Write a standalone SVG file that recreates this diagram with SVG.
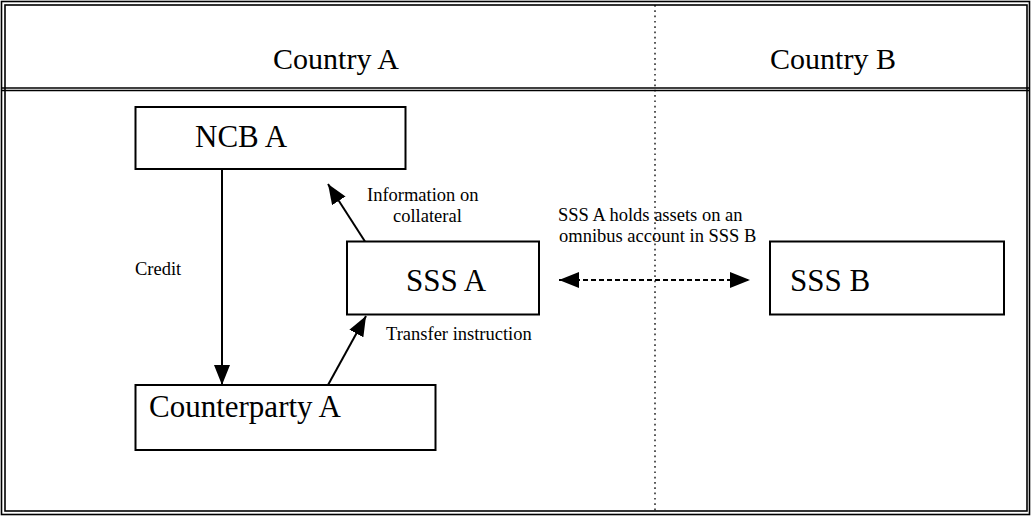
<svg xmlns="http://www.w3.org/2000/svg" width="1031" height="516" viewBox="0 0 1031 516">
<style>
.box{fill:#fff;stroke:#000;stroke-width:2}
.big{font-family:"Liberation Serif","Times New Roman",serif;font-size:31px;fill:#000}
.hdr{font-family:"Liberation Serif","Times New Roman",serif;font-size:30px;fill:#000}
.sm{font-family:"Liberation Serif","Times New Roman",serif;font-size:18.5px;fill:#000}
.ln{stroke:#000;stroke-width:2;fill:none}
.frame{fill:none;stroke:#000;stroke-width:1.6}
</style>
<defs>
<marker id="ah" viewBox="0 0 20 16" refX="20" refY="8" markerWidth="20" markerHeight="16" markerUnits="userSpaceOnUse" orient="auto-start-reverse">
<path d="M0,0 L20,8 L0,16 z" fill="#000"/>
</marker>
</defs>
<rect width="1031" height="516" fill="#fff"/>
<g id="frame">
<rect class="frame" x="1.5" y="1.5" width="1028" height="513"/>
<rect class="frame" x="5" y="5" width="1022" height="506"/>
<line class="frame" x1="1.5" y1="88" x2="1029.5" y2="88"/>
<line class="frame" x1="1.5" y1="90.5" x2="1029.5" y2="90.5"/>
<line x1="655" y1="5" x2="655" y2="511" stroke="#000" stroke-width="1.3" stroke-dasharray="1.7 3.6"/>
</g>
<g id="headers">
<text class="hdr" x="336" y="69" text-anchor="middle">Country A</text>
<text class="hdr" x="833" y="69" text-anchor="middle">Country B</text>
</g>
<g id="ncb-a">
<rect class="box" x="135.5" y="107" width="270" height="62"/>
<text class="big" x="195" y="147">NCB A</text>
</g>
<g id="sss-a">
<rect class="box" x="347" y="241.5" width="192" height="73"/>
<text class="big" x="406" y="291">SSS A</text>
</g>
<g id="sss-b">
<rect class="box" x="770" y="241.5" width="234" height="73"/>
<text class="big" x="790" y="291">SSS B</text>
</g>
<g id="counterparty-a">
<rect class="box" x="135.5" y="385" width="300" height="65"/>
<text class="big" x="149" y="417">Counterparty A</text>
</g>
<g id="connectors">
<line class="ln" x1="222" y1="169" x2="222" y2="385" marker-end="url(#ah)"/>
<line class="ln" x1="365" y1="241.5" x2="328" y2="184" marker-end="url(#ah)"/>
<line class="ln" x1="328" y1="385" x2="366" y2="316" marker-end="url(#ah)"/>
<line class="ln" x1="559" y1="280" x2="750" y2="280" stroke-dasharray="5 3" marker-start="url(#ah)" marker-end="url(#ah)"/>
</g>
<g id="labels">
<text class="sm" x="367" y="201">Information on</text>
<text class="sm" x="393" y="222">collateral</text>
<text class="sm" x="135" y="275">Credit</text>
<text class="sm" x="386" y="340">Transfer instruction</text>
<text class="sm" x="558" y="221">SSS A holds assets on an</text>
<text class="sm" x="559" y="242">omnibus account in SSS B</text>
</g>
</svg>
